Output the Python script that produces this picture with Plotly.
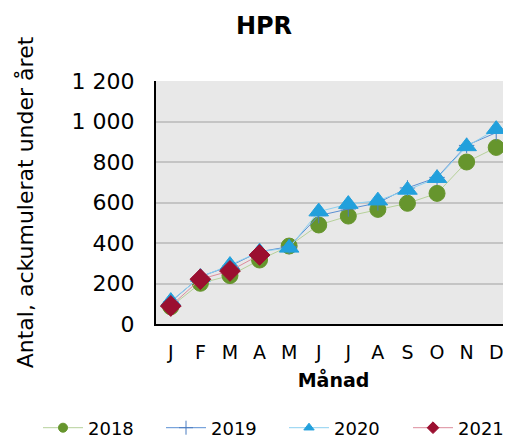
import plotly.graph_objects as go

months = ["J", "F", "M", "A", "M", "J", "J", "A", "S", "O", "N", "D"]
y2018 = [85, 201, 239, 316, 385, 489, 533, 566, 596, 645, 800, 872]
y2019 = [110, 234, 286, 357, 382, 535, 568, 598, 672, 724, 882, 945]
y2020 = [113, 232, 291, 357, 376, 555, 592, 609, 662, 720, 877, 962]
y2021 = [89, 221, 262, 341]
series_names = ["2018", "2019", "2020", "2021"]

xs = list(range(12))

styles = [
    dict(line="#b6d19a", marker="#66952d", symbol="circle", size=16),
    dict(line="#5b8fd3", marker="#4a7cc0", symbol="cross-thin", size=11),
    dict(line="#8dd0f0", marker="#22a0dc", symbol="triangle-up", size=17),
    dict(line="#dc8c9c", marker="#9b0f30", symbol="diamond", size=16),
]
data = [y2018, y2019, y2020, y2021]

# page body has an 8px margin: figure is drawn offset by 8px
W, H = 503, 433
OFF = 8

fig = go.Figure()
for name, ys, st in zip(series_names, data, styles):
    fig.add_trace(go.Scatter(x=xs[:len(ys)], y=ys, name=name, mode="lines+markers",
                             showlegend=False,
                             line=dict(color=st["line"], width=1),
                             marker=dict(symbol=st["symbol"], size=st["size"],
                                         color=st["marker"],
                                         line=dict(width=1, color=st["marker"]))))

legend_ids = ["legend", "legend2", "legend3", "legend4"]
text_starts = [88, 211, 334, 458]  # screen px of legend text starts
font = "DejaVu Sans, Verdana, sans-serif"
legend_layout = {}
for name, st, lid, tx in zip(series_names, styles, legend_ids, text_starts):
    fig.add_trace(go.Scatter(x=[None], y=[None], name=name, mode="lines+markers",
                             legend=lid,
                             line=dict(color=st["line"], width=1),
                             marker=dict(symbol=st["symbol"],
                                         size=10 if st["symbol"] == "cross-thin" else 9,
                                         color=st["marker"],
                                         line=dict(width=1, color=st["marker"]))))
    legend_layout[lid] = dict(orientation="h", xref="container", yref="container",
                              x=(tx - OFF - 50) / W, xanchor="left",
                              y=1 - (428 - OFF) / H, yanchor="middle",
                              itemwidth=40,
                              font=dict(size=18, family=font),
                              bgcolor="rgba(0,0,0,0)")

fig.update_layout(
    width=W, height=H,
    margin=dict(l=156 - OFF, r=0, t=81 - OFF, b=H - (324 - OFF), autoexpand=False),
    paper_bgcolor="white", plot_bgcolor="#e8e8e8",
    separators=", ",
    font=dict(family=font, size=19, color="black"),
    title=dict(text="<b>HPR</b>", x=(264 - OFF) / W, xref="container",
               y=1 - (26 - OFF) / H, yref="container", yanchor="middle",
               xanchor="center", font=dict(size=24, family=font)),
    showlegend=True,
    xaxis=dict(tickmode="array", tickvals=xs, ticktext=months, range=[-0.5, 11.5],
               showgrid=False, showline=True, linecolor="black", linewidth=2,
               ticks="", ticklabelstandoff=10, tickfont=dict(size=19),
               automargin=False,
               title=dict(text="<b>Månad</b>", font=dict(size=19), standoff=12),
               zeroline=False),
    yaxis=dict(range=[0, 1200], tickvals=[0, 200, 400, 600, 800, 1000, 1200],
               tickformat=",d", showgrid=True, gridcolor="#c4c4c4", gridwidth=1.5,
               showline=True, linecolor="black", linewidth=2, ticks="",
               ticklabelstandoff=15, tickfont=dict(size=22), zeroline=False,
               automargin=False,
               title=dict(text="Antal, ackumulerat under året", font=dict(size=22),
                          standoff=32)),
    **legend_layout,
)

fig.write_html("out.html")
